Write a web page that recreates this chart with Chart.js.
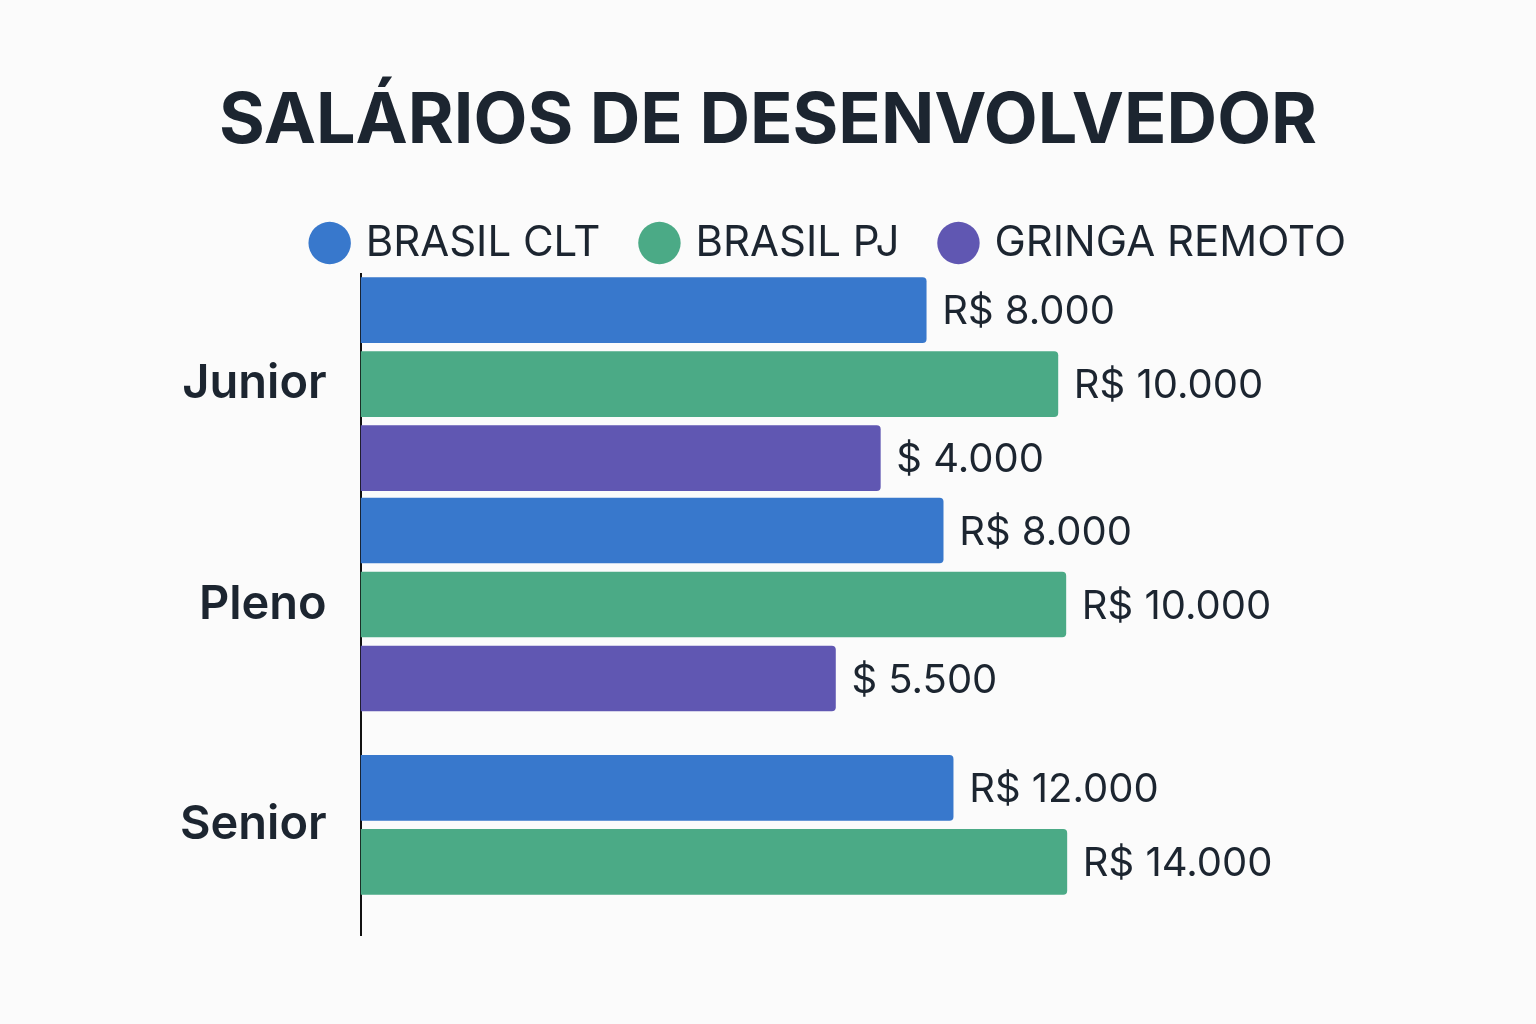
<!DOCTYPE html>
<html lang="pt">
<head>
<meta charset="UTF-8">
<title>Salários de desenvolvedor</title>
<script src="https://cdn.jsdelivr.net/npm/chart.js"></script>
<style>
  html, body { margin: 0; padding: 0; background: #fbfbfb; }
  .wrap { width: 1536px; height: 1024px; position: relative; }
</style>
</head>
<body>
<div class="wrap"><canvas id="chart"></canvas></div>
<script>
// categorias e séries
const niveis = ['Junior', 'Pleno', 'Senior'];
const series = ['BRASIL CLT', 'BRASIL PJ', 'GRINGA REMOTO'];
// comprimento das barras como aparece na imagem
const brasilClt = [567, 584, 594];
const brasilPj = [699, 707, 708];
const gringaRemoto = [521, 476, null];
// rótulos escritos ao lado das barras
const rotulosClt = ['R$ 8.000', 'R$ 8.000', 'R$ 12.000'];
const rotulosPj = ['R$ 10.000', 'R$ 10.000', 'R$ 14.000'];
const rotulosGringa = ['$ 4.000', '$ 5.500', ''];

const textColor = '#1c2530';

const valueLabels = {
  id: 'valueLabels',
  afterDatasetsDraw(chart) {
    const ctx = chart.ctx;
    const rotulos = [rotulosClt, rotulosPj, rotulosGringa];
    ctx.save();
    ctx.font = '40px Inter, "Noto Sans", sans-serif';
    ctx.fillStyle = textColor;
    ctx.textBaseline = 'middle';
    chart.data.datasets.forEach((ds, i) => {
      chart.getDatasetMeta(i).data.forEach((bar, j) => {
        if (ds.data[j] == null) return;
        ctx.fillText(rotulos[i][j], bar.x + 16, bar.y + 2);
      });
    });
    ctx.restore();
  }
};

new Chart(document.getElementById('chart'), {
  type: 'bar',
  data: {
    labels: niveis,
    datasets: [
      { label: series[0], data: brasilClt, backgroundColor: '#3878cc' },
      { label: series[1], data: brasilPj, backgroundColor: '#4baa86' },
      { label: series[2], data: gringaRemoto, backgroundColor: '#6057b2' }
    ]
  },
  options: {
    indexAxis: 'y',
    responsive: true,
    maintainAspectRatio: false,
    animation: false,
    skipNull: true,
    datasets: {
      bar: { barThickness: 74, maxBarThickness: 65, borderRadius: 4, borderSkipped: 'start' }
    },
    layout: { padding: { top: 80, right: 146, bottom: 89, left: 146 } },
    plugins: {
      title: {
        display: true,
        text: 'SALÁRIOS DE DESENVOLVEDOR',
        color: textColor,
        font: { family: 'Inter, "Noto Sans", sans-serif', size: 70, weight: 'bold' },
        padding: { top: 0, bottom: 14 }
      },
      legend: {
        display: true,
        position: 'top',
        align: 'end',
        labels: {
          usePointStyle: true,
          pointStyle: 'circle',
          boxWidth: 30,
          boxHeight: 30,
          padding: 44,
          color: textColor,
          font: { family: 'Inter, "Noto Sans", sans-serif', size: 42 }
        }
      },
      tooltip: { enabled: false }
    },
    scales: {
      x: { display: false, min: 0, max: 1032 },
      y: {
        grid: { display: false, drawTicks: false },
        border: { display: true, color: '#111', width: 2 },
        ticks: {
          color: textColor,
          padding: 34,
          font: { family: 'Inter, "Noto Sans", sans-serif', size: 47, weight: '600' }
        }
      }
    }
  },
  plugins: [valueLabels]
});
</script>
</body>
</html>
